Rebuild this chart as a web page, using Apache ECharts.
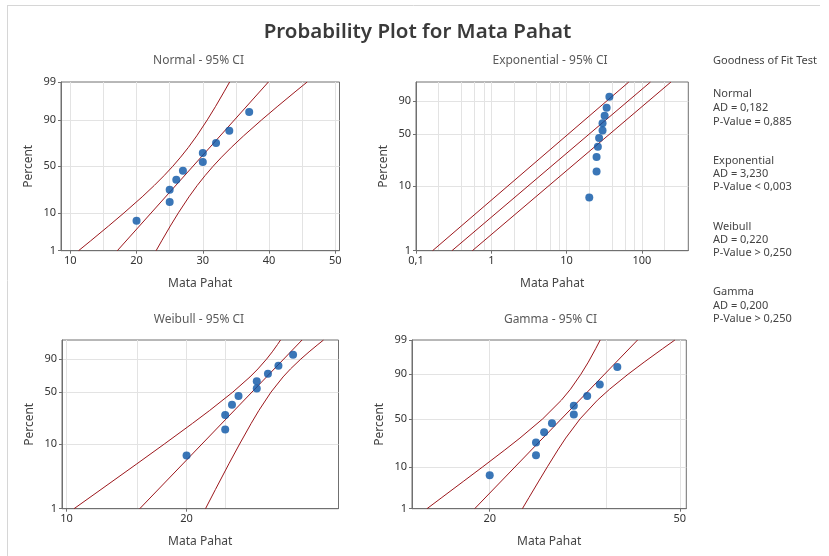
<!DOCTYPE html>
<html><head><meta charset="utf-8">
<script src="https://cdn.jsdelivr.net/npm/echarts@6/dist/echarts.min.js"></script>
<style>html,body{margin:0;padding:0;background:#fff}#c{width:829px;height:556px}</style>
</head><body><div id="c"></div>
<script>
// ---------------- data ----------------
const matapahat = [20, 25, 25, 26, 27, 30, 30, 32, 34, 37];
const plotPercent = [6.7, 16.3, 26.0, 35.6, 45.2, 54.8, 64.4, 74.0, 83.7, 93.3];

const fitPercent = [1, 99];
const normBandPercent = [1, 2, 5, 10, 20, 30, 40, 50, 60, 70, 80, 90, 95, 98, 99];
const normFit = [17.1, 39.9];
const normLower = [11.25, 13.08, 15.78, 18.12, 20.85, 22.69, 24.17, 25.46, 26.65, 27.83, 29.09, 30.68, 31.90, 33.20, 34.05];
const normUpper = [22.95, 23.80, 25.10, 26.32, 27.91, 29.17, 30.35, 31.54, 32.83, 34.31, 36.16, 38.88, 41.22, 43.92, 45.75];

const expFit = [0.30, 130];
const expLower = [0.166, 67];
const expUpper = [0.56, 243];

const bandPercent = [1, 2, 5, 10, 20, 30, 50, 70, 80, 90, 95, 98, 99];
const weibFit = [15.26, 38.97];
const weibLower = [10.44, 12.20, 15.01, 17.59, 20.70, 22.86, 26.12, 28.85, 30.20, 31.75, 32.81, 33.82, 34.42];
const weibUpper = [22.31, 23.63, 25.54, 27.17, 29.05, 30.37, 32.57, 34.92, 36.45, 38.69, 40.58, 42.71, 44.12];

const gammaFit = [18.6, 40.8];
const gammaLower = [14.78, 15.88, 17.65, 19.34, 21.51, 23.14, 25.82, 28.25, 29.52, 31.04, 32.17, 33.33, 34.07];
const gammaUpper = [23.41, 24.17, 25.34, 26.41, 27.78, 28.85, 30.92, 33.61, 35.65, 38.97, 42.11, 46.02, 48.84];

const normXTicks = [10, 20, 30, 40, 50];
const normXTickLabels = ['10', '20', '30', '40', '50'];
const normXGrid = [10, 15, 20, 25, 30, 35, 40, 45, 50];
const expXTicks = [0.1, 1, 10, 100];
const expXTickLabels = ['0,1', '1', '10', '100'];
const expXGrid = [0.2, 0.4, 0.6, 0.8, 1, 2, 4, 6, 8, 10, 20, 40, 60, 80, 100, 200];
const weibXTicks = [10, 20];
const weibXTickLabels = ['10', '20'];
const weibXGrid = [10, 15, 20, 25];
const gammaXTicks = [20, 50];
const gammaXTickLabels = ['20', '50'];
const gammaXGrid = [20, 35, 50];
const yTicksFull = [1, 10, 50, 90, 99];
const yTicksShort = [1, 10, 50, 90];

const gofLines = ['Goodness of Fit Test', 'Normal', 'AD = 0,182', 'P-Value = 0,885',
  'Exponential', 'AD = 3,230', 'P-Value < 0,003', 'Weibull', 'AD = 0,220', 'P-Value > 0,250',
  'Gamma', 'AD = 0,200', 'P-Value > 0,250'];

// ---------------- scale transforms ----------------
function normInv(p) {
  const a = [-3.969683028665376e+01, 2.209460984245205e+02, -2.759285104469687e+02, 1.383577518672690e+02, -3.066479806614716e+01, 2.506628277459239e+00];
  const b = [-5.447609879822406e+01, 1.615858368580409e+02, -1.556989798598866e+02, 6.680131188771972e+01, -1.328068155288572e+01];
  const c = [-7.784894002430293e-03, -3.223964580411365e-01, -2.400758277161838e+00, -2.549732539343734e+00, 4.374664141464968e+00, 2.938163982698783e+00];
  const d = [7.784695709041462e-03, 3.224671290700398e-01, 2.445134137142996e+00, 3.754408661907416e+00];
  const pl = 0.02425, ph = 1 - pl;
  let q, r;
  if (p < pl) { q = Math.sqrt(-2 * Math.log(p)); return (((((c[0]*q+c[1])*q+c[2])*q+c[3])*q+c[4])*q+c[5]) / ((((d[0]*q+d[1])*q+d[2])*q+d[3])*q+1); }
  if (p <= ph) { q = p - 0.5; r = q*q; return (((((a[0]*r+a[1])*r+a[2])*r+a[3])*r+a[4])*r+a[5])*q / (((((b[0]*r+b[1])*r+b[2])*r+b[3])*r+b[4])*r+1); }
  q = Math.sqrt(-2 * Math.log(1 - p)); return -(((((c[0]*q+c[1])*q+c[2])*q+c[3])*q+c[4])*q+c[5]) / ((((d[0]*q+d[1])*q+d[2])*q+d[3])*q+1);
}
const GK = 36;
const tNorm = p => normInv(p / 100);
const tSev = p => Math.log(-Math.log(1 - p / 100));
const tGamma = p => 3 * Math.log(1 - 1 / (9 * GK) + normInv(p / 100) / (3 * Math.sqrt(GK)));
const tLin = v => v;
const tLog = v => Math.log10(v);

// ---------------- build ----------------
const FONT = 'Noto Sans';
const BORDER = '#707070', GRIDC = '#e3e3e3', RED = '#9c171c', BLUE = '#0954a5';
const grids = [], xAxes = [], yAxes = [], series = [];

function labelFor(v, vals, labels) {
  for (let i = 0; i < vals.length; i++) if (Math.abs(vals[i] - v) < 1e-9) return labels[i];
  return '';
}

function panel(o) {
  const gi = grids.length;
  grids.push({ left: o.rect[0], top: o.rect[1], width: o.rect[2], height: o.rect[3], show: true, borderColor: BORDER, borderWidth: 1, backgroundColor: '#fff' });
  const xmin = o.xT(o.xRange[0]), xmax = o.xT(o.xRange[1]);
  const xv = o.xTicks.map(o.xT);
  const xi = xAxes.length;
  xAxes.push({ type: 'value', gridIndex: gi, position: 'bottom', min: xmin, max: xmax,
    axisLine: { show: true, onZero: false, lineStyle: { color: BORDER } },
    axisTick: { show: true, length: 3, customValues: xv, lineStyle: { color: BORDER } },
    axisLabel: { customValues: xv, margin: 5, fontSize: 11, color: '#333', fontFamily: FONT, formatter: v => labelFor(v, xv, o.xLabels) },
    splitLine: { show: false },
    name: 'Mata Pahat', nameLocation: 'middle', nameGap: 27, nameTextStyle: { fontSize: 12, color: '#444', fontFamily: FONT } });
  xAxes.push({ type: 'value', gridIndex: gi, position: 'top', min: xmin, max: xmax,
    axisLine: { show: false }, axisTick: { show: false, customValues: o.xGrid.map(o.xT) }, axisLabel: { show: false },
    splitLine: { show: true, lineStyle: { color: GRIDC, width: 1 } } });
  const yv = o.yTicks.map(o.yT);
  const yi = yAxes.length;
  yAxes.push({ type: 'value', gridIndex: gi, min: o.yT(1), max: o.yT(99),
    axisLine: { show: true, onZero: false, lineStyle: { color: BORDER } },
    axisTick: { show: true, length: 3, customValues: yv, lineStyle: { color: BORDER } },
    axisLabel: { customValues: yv, margin: 5, fontSize: 11, color: '#333', fontFamily: FONT, formatter: v => labelFor(v, yv, o.yTicks.map(String)) },
    splitLine: { show: true, showMinLine: false, showMaxLine: o.showMax, lineStyle: { color: GRIDC, width: 1 } },
    name: 'Percent', nameLocation: 'middle', nameGap: 26, nameTextStyle: { fontSize: 12, color: '#444', fontFamily: FONT } });
  const line = (pct, xs) => ({ type: 'line', xAxisIndex: xi, yAxisIndex: yi, data: pct.map((p, i) => [o.xT(xs[i]), o.yT(p)]),
    symbol: 'none', smooth: false, clip: true, silent: true, z: 2, lineStyle: { color: RED, width: 1 } });
  series.push(line(o.bandPct, o.lower), line(o.bandPct, o.upper), line(fitPercent, o.fit));
  series.push({ type: 'scatter', xAxisIndex: xi, yAxisIndex: yi, data: matapahat.map((x, i) => [o.xT(x), o.yT(plotPercent[i])]),
    symbol: 'circle', symbolSize: 8, itemStyle: { color: BLUE }, z: 3, silent: true });
}

panel({ rect: [61, 82, 278.5, 168.7], xT: tLin, yT: tNorm, xRange: [8.6, 50.63], xTicks: normXTicks, xLabels: normXTickLabels, xGrid: normXGrid,
  yTicks: yTicksFull, showMax: false, bandPct: normBandPercent, lower: normLower, upper: normUpper, fit: normFit });
panel({ rect: [416, 82, 272.3, 168.7], xT: tLog, yT: tSev, xRange: [0.1, 413], xTicks: expXTicks, xLabels: expXTickLabels, xGrid: expXGrid,
  yTicks: yTicksShort, showMax: true, bandPct: fitPercent, lower: expLower, upper: expUpper, fit: expFit });
panel({ rect: [62, 340, 276.5, 168.7], xT: tLog, yT: tSev, xRange: [9.74, 48.1], xTicks: weibXTicks, xLabels: weibXTickLabels, xGrid: weibXGrid,
  yTicks: yTicksShort, showMax: true, bandPct: bandPercent, lower: weibLower, upper: weibUpper, fit: weibFit });
panel({ rect: [412, 340, 274.3, 168.7], xT: tLog, yT: tGamma, xRange: [13.75, 51.6], xTicks: gammaXTicks, xLabels: gammaXTickLabels, xGrid: gammaXGrid,
  yTicks: yTicksFull, showMax: false, bandPct: bandPercent, lower: gammaLower, upper: gammaUpper, fit: gammaFit });

const txt = (s, x, y, size, color, weight, align) => ({ type: 'text', x: x, y: y, silent: true,
  style: { text: s, fontSize: size, fontFamily: FONT, fontWeight: weight || 'normal', fill: color, align: align || 'center', verticalAlign: 'middle', textAlign: align || 'center', textVerticalAlign: 'middle' } });

const gofY = [60.7, 94.3, 108.3, 121.7, 160.7, 174, 187.3, 226.7, 240, 253.3, 292.3, 305.7, 319.3];
const graphics = [
  { type: 'line', shape: { x1: 7, y1: 5.5, x2: 820, y2: 5.5 }, style: { stroke: '#d6d6d6', lineWidth: 1 }, silent: true },
  { type: 'line', shape: { x1: 7.5, y1: 5, x2: 7.5, y2: 556 }, style: { stroke: '#d6d6d6', lineWidth: 1 }, silent: true },
  txt('Probability Plot for Mata Pahat', 417.5, 32, 20.5, '#3a3a3a', 600),
  txt('Normal - 95% CI', 198.5, 61, 12, '#5a5a5a'),
  txt('Exponential - 95% CI', 550, 61, 12, '#5a5a5a'),
  txt('Weibull - 95% CI', 199, 320, 12, '#5a5a5a'),
  txt('Gamma - 95% CI', 550.5, 320, 12, '#5a5a5a')
];
gofLines.forEach((s, i) => graphics.push(txt(s, 713, gofY[i], 11, '#444', 'normal', 'left')));

const chart = echarts.init(document.getElementById('c'), null, { renderer: 'canvas' });
chart.setOption({ animation: false, backgroundColor: '#fff', textStyle: { fontFamily: FONT },
  grid: grids, xAxis: xAxes, yAxis: yAxes, series: series, graphic: graphics });
</script></body></html>
